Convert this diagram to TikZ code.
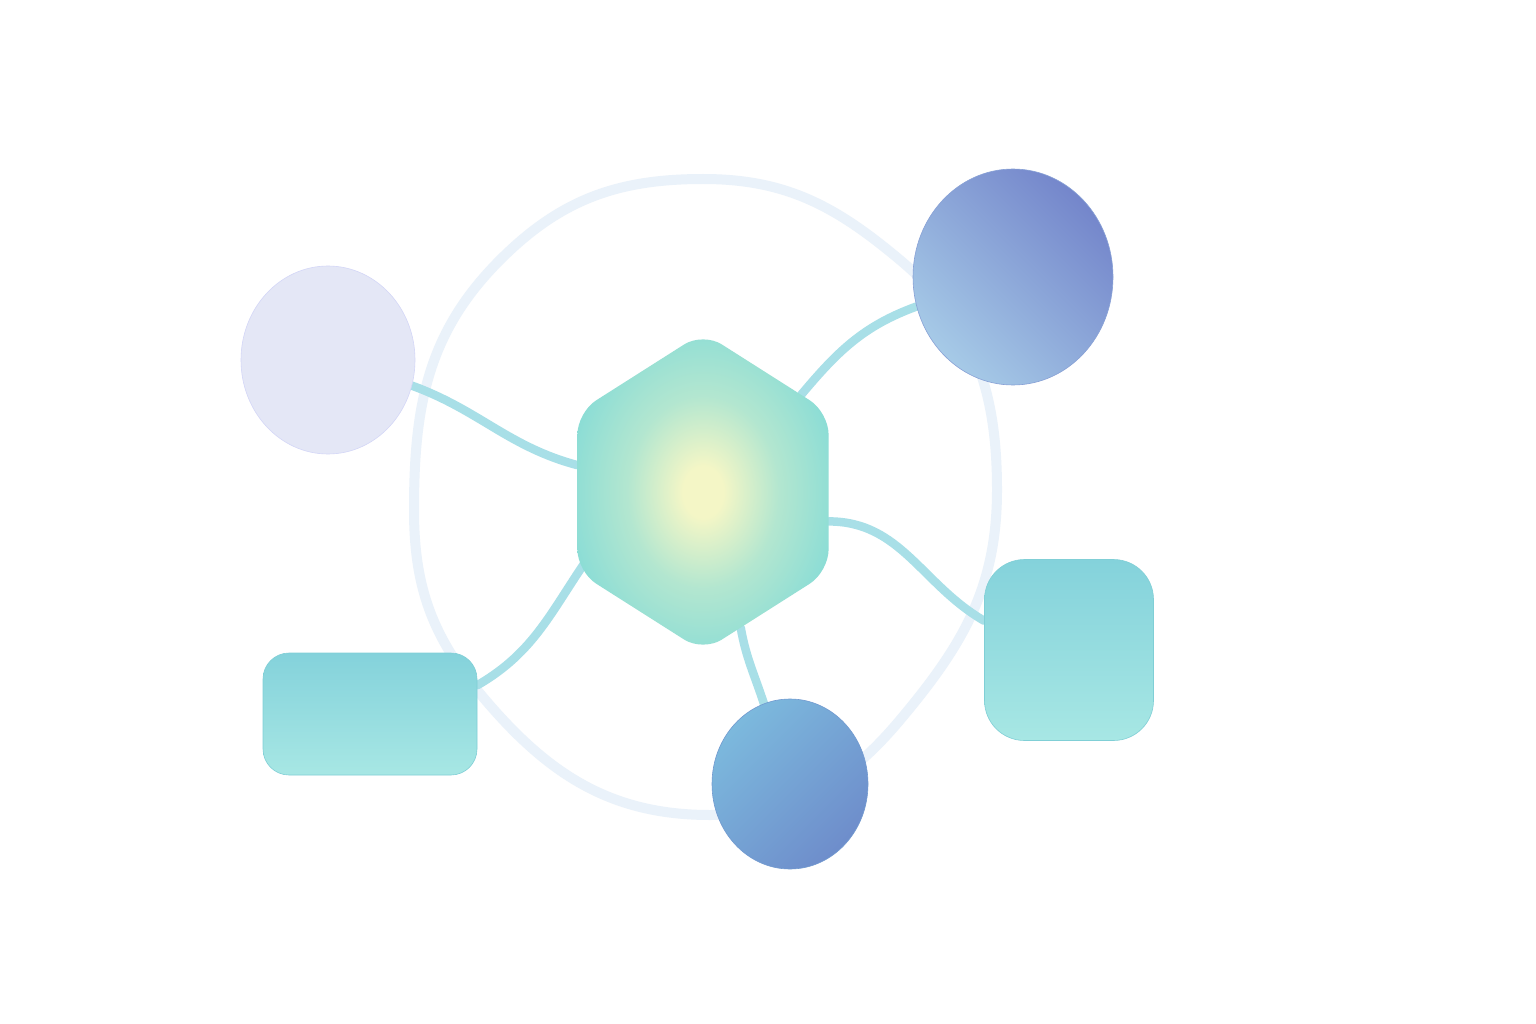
\documentclass[tikz,border=0pt]{standalone}
\usepackage{tikz}
\usetikzlibrary{shapes,arrows,positioning,calc}
\definecolor{hubcore}{HTML}{F4F6C6}
\definecolor{hubrim}{HTML}{88DCD6}
\colorlet{hubmid}{hubcore!40!hubrim}
\definecolor{lilac}{HTML}{E4E7F6}
\definecolor{duskdark}{HTML}{7486CB}
\definecolor{dusklight}{HTML}{A6CAE7}
\definecolor{seadark}{HTML}{6E8DCB}
\definecolor{sealight}{HTML}{7CB9DD}
\definecolor{tiletop}{HTML}{84D2DB}
\definecolor{tilebot}{HTML}{A7E7E4}
\definecolor{tileedge}{HTML}{80CFD6}
\definecolor{linkc}{HTML}{A8DFE7}
\definecolor{ringc}{HTML}{EAF2FA}
\pgfdeclarelayer{back}
\pgfsetlayers{back,main}
\pgfdeclareradialshading{hubglow}{\pgfpoint{0bp}{0bp}}{color(0bp)=(hubcore); color(4bp)=(hubcore); color(15bp)=(hubmid); color(28bp)=(hubrim); color(50bp)=(hubrim)}
\tikzset{hex/.style={regular polygon, regular polygon sides=6, shape border rotate=30, minimum size=290pt, inner sep=0pt, rounded corners=22pt, shading=hubglow}}
\tikzset{pebble/.style={ellipse, inner sep=0pt, line width=0.6pt}}
\tikzset{tile/.style={rectangle, inner sep=0pt, top color=tiletop, bottom color=tilebot, draw=tileedge, line width=0.6pt}}
\tikzset{link/.style={draw=linkc, line width=8.5pt, line cap=round}}
\tikzset{ring/.style={draw=ringc, line width=10pt}}

\begin{document}
\begin{tikzpicture}[x=1pt,y=-1pt,on grid]
        \useasboundingbox (0,0) rectangle (1536,1024);
        \begin{scope}[shift={(703,492)},yscale=1.1]
          \node[hex,transform shape] (hub){};
        \end{scope}
        \node[pebble, fill=lilac, draw=lilac!93!blue, minimum width=174pt, minimum height=188pt,
          above left=132pt and 375pt of hub] (lila){};
        \node[pebble, top color=duskdark, bottom color=dusklight, shading angle=-45, draw=duskdark!60!dusklight,
          minimum width=200pt, minimum height=216pt, above right=215pt and 310pt of hub] (dusk){};
        \node[pebble, top color=sealight, bottom color=seadark, shading angle=45, draw=seadark!70!sealight,
          minimum width=156pt, minimum height=170pt, below right=292pt and 87pt of hub] (sea){};
        \node[tile, minimum width=214pt, minimum height=122pt, rounded corners=26pt,
          below left=222pt and 333pt of hub] (slab){};
        \node[tile, minimum width=169pt, minimum height=181pt, rounded corners=40pt,
          below right=158pt and 366pt of hub] (cube){};

        \begin{pgfonlayer}{back}
        \fill[white] (0,0) rectangle (1536,1024);
        % the faint loop round the hub
        \draw[ring] (703,179) to[out=0,in=140] (900,260) to[out=-40,in=90] (997,490)
          to[out=-90,in=50] (900,720) to[out=-130,in=0] (710,815) to[out=180,in=-50] (482,696)
          to[out=130,in=-90] (414,510) to[out=90,in=-135] (500,260) to[out=45,in=180] (703,179);
        \path[link] (lila.-17) to[out=-20,in=165] (hub.169);
        \path[link] (hub.42)   to[out=50,in=200]  (dusk.197);
        \path[link] (hub.-12)  to[out=0,in=150]   (cube.161);
        \path[link] ($(hub)!0.9!(hub.207)$) to[out=235,in=30] (slab.15);
        \path[link] (hub.-73)  to[out=-80,in=108] (sea.108);
        \end{pgfonlayer}
\end{tikzpicture}
\end{document}
